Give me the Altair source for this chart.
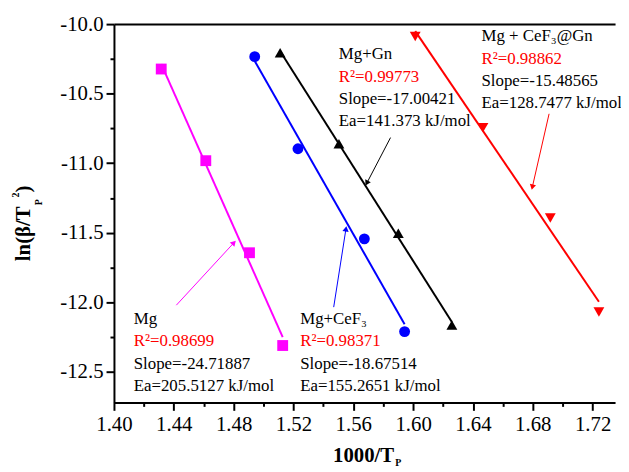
import altair as alt
import pandas as pd
import numpy as np

# ---------------- data ----------------
series = ["Mg", "Mg+CeF₃", "Mg+Gn", "Mg + CeF₃@Gn"]
colors = ["#FF00FF", "#0000FF", "#000000", "#FF0000"]
shapes = ["square", "circle", "triangle-up", "triangle-down"]

mg_x = [1.4316, 1.4614, 1.4906, 1.5128]
mg_y = [-10.323, -10.982, -11.644, -12.311]
ce_x = [1.4941, 1.5230, 1.5674, 1.5943]
ce_y = [-10.234, -10.896, -11.544, -12.211]
gn_x = [1.5111, 1.5504, 1.5901, 1.6259]
gn_y = [-10.206, -10.860, -11.504, -12.163]
cg_x = [1.6014, 1.6467, 1.6917, 1.7242]
cg_y = [-10.089, -10.744, -11.394, -12.070]

x_ticks = [1.40, 1.44, 1.48, 1.52, 1.56, 1.60, 1.64, 1.68, 1.72]
x_minor = [1.42, 1.46, 1.50, 1.54, 1.58, 1.62, 1.66, 1.70]
y_ticks = [-10.0, -10.5, -11.0, -11.5, -12.0, -12.5]
y_minor = [-10.25, -10.75, -11.25, -11.75, -12.25]

r2_vals = ["0.98699", "0.98371", "0.99773", "0.98862"]
slope_vals = ["-24.71887", "-18.67514", "-17.00421", "-15.48565"]
ea_vals = ["205.5127", "155.2651", "141.373", "128.7477"]

# annotation anchors (data units)
ann_x = [1.4132, 1.5245, 1.5503, 1.6457]
ann_y = [-12.1205, -12.1205, -10.2174, -10.0891]

# arrows: start -> tip (data units)
arr_x0 = [1.4417, 1.5469, 1.5849, 1.6909]
arr_y0 = [-12.021, -12.035, -10.816, -10.645]
arr_x1 = [1.4802, 1.5551, 1.5690, 1.6797]
arr_y1 = [-11.572, -11.472, -11.144, -11.172]

# ---------------- tables ----------------
xs_all = [mg_x, ce_x, gn_x, cg_x]
ys_all = [mg_y, ce_y, gn_y, cg_y]
rows = []
for s, xs, ys in zip(series, xs_all, ys_all):
    for a, b in zip(xs, ys):
        rows.append({"series": s, "x": a, "y": b})
df = pd.DataFrame(rows)

ann = pd.DataFrame({
    "series": series,
    "x": ann_x, "y": ann_y,
    "l0": series,
    "l1": ["R²=" + v for v in r2_vals],
    "l2": ["Slope=" + v for v in slope_vals],
    "l3": ["Ea=" + v + " kJ/mol" for v in ea_vals],
})

W, H = 506, 382
XD = [1.40, 1.735]
YD = [-12.72, -10.0]
sx = W / (XD[1] - XD[0])
sy = H / (YD[1] - YD[0])
arr = pd.DataFrame({"series": series, "x0": arr_x0, "y0": arr_y0,
                    "x1": arr_x1, "y1": arr_y1})
arr["ang"] = (np.degrees(np.arctan2((arr.x1 - arr.x0) * sx,
                                    (arr.y1 - arr.y0) * sy)) + 360) % 360

# ---------------- encodings ----------------
FONT = "Times New Roman, Liberation Serif, Tinos, DejaVu Serif, serif"
xscale = alt.Scale(domain=XD, nice=False, zero=False)
yscale = alt.Scale(domain=YD, nice=False, zero=False)
cscale = alt.Scale(domain=series, range=colors)
sscale = alt.Scale(domain=series, range=shapes)


def X(f, axis):
    return alt.X(f, type="quantitative", scale=xscale, axis=axis)


def Y(f, axis):
    return alt.Y(f, type="quantitative", scale=yscale, axis=axis)


col = alt.Color("series:N", scale=cscale, legend=None)

LBL = "replace(datum.label, '\u2212', '-')"
x_major = alt.Axis(orient="bottom", values=x_ticks, format=".2f", title=None,
                   grid=False, labelFont=FONT, labelFontSize=21,
                   labelColor="black", tickSize=8, tickWidth=2,
                   tickColor="black", domainColor="black", domainWidth=2,
                   labelPadding=3, labelFlush=False)
y_major = alt.Axis(orient="left", values=y_ticks, format=".1f", title=None,
                   grid=False, labelFont=FONT, labelFontSize=21,
                   labelColor="black", tickSize=8, tickWidth=2,
                   tickColor="black", domainColor="black", domainWidth=2,
                   labelPadding=3, labelFlush=False, labelExpr=LBL)
x_min_ax = alt.Axis(orient="bottom", values=x_minor, labels=False, domain=False,
                    title=None, grid=False, tickSize=4, tickWidth=2,
                    tickColor="black")
y_min_ax = alt.Axis(orient="left", values=y_minor, labels=False, domain=False,
                    title=None, grid=False, tickSize=4, tickWidth=2,
                    tickColor="black")
x_top = alt.Axis(orient="top", labels=False, ticks=False, title=None,
                 grid=False, domainColor="black", domainWidth=2)

pts = alt.Chart(df).mark_point(filled=True, size=120, opacity=1).encode(
    x=X("x", x_major), y=Y("y", y_major), color=col,
    shape=alt.Shape("series:N", scale=sscale, legend=None))

fit = alt.Chart(df).transform_regression(
    "x", "y", groupby=["series"]).mark_line(strokeWidth=2).encode(
    x=X("x", None), y=Y("y", None), color=col)

minor = alt.Chart(df).mark_point(opacity=0).encode(
    x=X("x", x_min_ax), y=Y("y", y_min_ax))

top = alt.Chart(df).mark_point(opacity=0).encode(
    x=X("x", x_top), y=Y("y", None))

text_layers = []
for i, (fld, c) in enumerate([("l0", "black"), ("l1", "#FF0000"),
                              ("l2", "black"), ("l3", "black")]):
    text_layers.append(
        alt.Chart(ann).mark_text(align="left", baseline="middle", font=FONT,
                                 fontSize=17, dy=i * 22.5, color=c).encode(
            x=X("x", None), y=Y("y", None), text=alt.Text(fld + ":N")))

arrows = alt.Chart(arr).mark_rule(strokeWidth=1).encode(
    x=X("x0", None), y=Y("y0", None), x2="x1", y2="y1", color=col)
heads = alt.Chart(arr).mark_point(shape="triangle-up", filled=True, size=40,
                                  opacity=1).encode(
    x=X("x1", None), y=Y("y1", None),
    angle=alt.Angle("ang:Q", scale=None), color=col)

one = pd.DataFrame({"a": [0]})


def label(txt, x, y, size, angle=0, align="left", baseline="alphabetic"):
    return alt.Chart(one).mark_text(text=txt, font=FONT, fontSize=size,
                                    fontWeight="bold", angle=angle,
                                    align=align, baseline=baseline,
                                    color="black").encode(
        x=alt.value(x), y=alt.value(y))


titles = [
    label("1000/T", 283, 442, 21, align="right"),
    label("P", 284, 446, 10),
    label("ln(β/T", -85, 184, 21, angle=270, align="right"),
    label("P", -73, 183, 10, angle=270),
    label("2", -96, 175, 10, angle=270),
    label(")", -85, 170, 21, angle=270),
]

chart = alt.layer(minor, top, fit, arrows, heads, pts, *text_layers, *titles
                  ).resolve_axis(x="independent", y="independent").properties(
    width=W, height=H,
    autosize=alt.AutoSizeParams(type="none"),
    padding={"left": 107, "top": 14, "right": 6, "bottom": 66},
).configure_view(stroke=None)

chart.save("out.html", embed_options={"renderer": "svg", "actions": False})
